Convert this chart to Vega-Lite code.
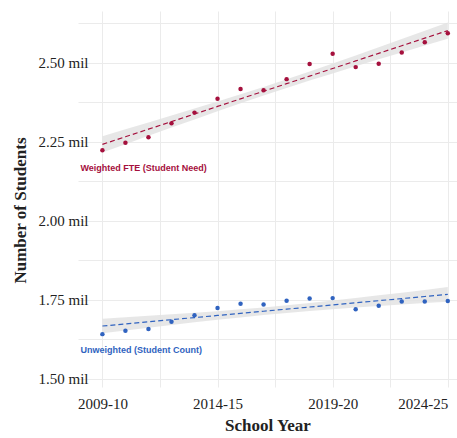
{
  "$schema": "https://vega.github.io/schema/vega-lite/v6.json",
  "width": 379,
  "height": 376,
  "autosize": {"type": "none"},
  "padding": {"left": 78, "top": 11, "right": 0, "bottom": 51},
  "background": "white",
  "config": {
    "view": {"stroke": null},
    "axis": {"gridColor": "#ebebeb", "gridWidth": 1, "domain": false, "ticks": false}
  },
  "datasets": {
    "pts": [
      {"year": 2009, "series": "Weighted", "value": 2.223, "fit": 2.2416, "lo": 2.2157, "hi": 2.2675},
      {"year": 2010, "series": "Weighted", "value": 2.247, "fit": 2.2656, "lo": 2.2421, "hi": 2.2891},
      {"year": 2011, "series": "Weighted", "value": 2.264, "fit": 2.2896, "lo": 2.2685, "hi": 2.3107},
      {"year": 2012, "series": "Weighted", "value": 2.308, "fit": 2.3136, "lo": 2.2946, "hi": 2.3326},
      {"year": 2013, "series": "Weighted", "value": 2.342, "fit": 2.3376, "lo": 2.3206, "hi": 2.3547},
      {"year": 2014, "series": "Weighted", "value": 2.386, "fit": 2.3616, "lo": 2.3462, "hi": 2.3771},
      {"year": 2015, "series": "Weighted", "value": 2.417, "fit": 2.3856, "lo": 2.3713, "hi": 2.3999},
      {"year": 2016, "series": "Weighted", "value": 2.413, "fit": 2.4096, "lo": 2.3959, "hi": 2.4233},
      {"year": 2017, "series": "Weighted", "value": 2.448, "fit": 2.4336, "lo": 2.4199, "hi": 2.4473},
      {"year": 2018, "series": "Weighted", "value": 2.496, "fit": 2.4576, "lo": 2.4433, "hi": 2.4719},
      {"year": 2019, "series": "Weighted", "value": 2.528, "fit": 2.4816, "lo": 2.4662, "hi": 2.4971},
      {"year": 2020, "series": "Weighted", "value": 2.486, "fit": 2.5056, "lo": 2.4886, "hi": 2.5227},
      {"year": 2021, "series": "Weighted", "value": 2.497, "fit": 2.5296, "lo": 2.5106, "hi": 2.5486},
      {"year": 2022, "series": "Weighted", "value": 2.532, "fit": 2.5536, "lo": 2.5325, "hi": 2.5747},
      {"year": 2023, "series": "Weighted", "value": 2.565, "fit": 2.5776, "lo": 2.5541, "hi": 2.6011},
      {"year": 2024, "series": "Weighted", "value": 2.593, "fit": 2.6016, "lo": 2.5757, "hi": 2.6275},
      {"year": 2009, "series": "Unweighted", "value": 1.641, "fit": 1.6667, "lo": 1.6437, "hi": 1.6897},
      {"year": 2010, "series": "Unweighted", "value": 1.652, "fit": 1.6734, "lo": 1.6526, "hi": 1.6942},
      {"year": 2011, "series": "Unweighted", "value": 1.657, "fit": 1.6800, "lo": 1.6612, "hi": 1.6988},
      {"year": 2012, "series": "Unweighted", "value": 1.680, "fit": 1.6867, "lo": 1.6699, "hi": 1.7036},
      {"year": 2013, "series": "Unweighted", "value": 1.701, "fit": 1.6934, "lo": 1.6783, "hi": 1.7085},
      {"year": 2014, "series": "Unweighted", "value": 1.724, "fit": 1.7001, "lo": 1.6864, "hi": 1.7138},
      {"year": 2015, "series": "Unweighted", "value": 1.737, "fit": 1.7067, "lo": 1.6940, "hi": 1.7194},
      {"year": 2016, "series": "Unweighted", "value": 1.735, "fit": 1.7134, "lo": 1.7013, "hi": 1.7255},
      {"year": 2017, "series": "Unweighted", "value": 1.747, "fit": 1.7201, "lo": 1.7080, "hi": 1.7322},
      {"year": 2018, "series": "Unweighted", "value": 1.754, "fit": 1.7268, "lo": 1.7141, "hi": 1.7395},
      {"year": 2019, "series": "Unweighted", "value": 1.755, "fit": 1.7334, "lo": 1.7197, "hi": 1.7471},
      {"year": 2020, "series": "Unweighted", "value": 1.720, "fit": 1.7401, "lo": 1.7250, "hi": 1.7552},
      {"year": 2021, "series": "Unweighted", "value": 1.731, "fit": 1.7468, "lo": 1.7300, "hi": 1.7637},
      {"year": 2022, "series": "Unweighted", "value": 1.744, "fit": 1.7535, "lo": 1.7347, "hi": 1.7723},
      {"year": 2023, "series": "Unweighted", "value": 1.744, "fit": 1.7601, "lo": 1.7393, "hi": 1.7809},
      {"year": 2024, "series": "Unweighted", "value": 1.746, "fit": 1.7668, "lo": 1.7438, "hi": 1.7898}
    ],
    "labels": [
      {"series": "Weighted", "year": 2008.05, "value": 2.167, "text": "Weighted FTE (Student Need)"},
      {"series": "Unweighted", "year": 2008.05, "value": 1.591, "text": "Unweighted (Student Count)"}
    ]
  },
  "layer": [
    {
      "data": {"name": "pts"},
      "mark": {"type": "area", "color": "#e3e3e3", "opacity": 0.85},
      "encoding": {
        "x": {
          "field": "year", "type": "quantitative",
          "scale": {"domain": [2007.94, 2024.4], "nice": false, "zero": false},
          "axis": {
            "values": [2009, 2011.5, 2014, 2016.5, 2019, 2021.5, 2024],
            "labelExpr": "datum.value % 5 == 4 ? datum.value + '-' + substring(toString(datum.value + 1), 2, 4) : ''",
            "labelFont": "Liberation Serif", "labelFontSize": 15, "labelColor": "#222222", "labelPadding": 9,
            "labelFlush": 12, "labelOverlap": false,
            "title": "School Year", "titleFont": "Liberation Serif", "titleFontSize": 17, "titleFontWeight": "bold",
            "titleColor": "#222222", "titlePadding": 6
          }
        },
        "y": {
          "field": "lo", "type": "quantitative",
          "scale": {"domain": [1.4737, 2.6636], "nice": false, "zero": false},
          "axis": {
            "values": [1.5, 1.625, 1.75, 1.875, 2.0, 2.125, 2.25, 2.375, 2.5, 2.625],
            "labelExpr": "(datum.value * 4) % 1 == 0 ? format(datum.value, '.2f') + ' mil' : ''",
            "labelFont": "Liberation Serif", "labelFontSize": 15, "labelColor": "#222222", "labelPadding": -10,
            "labelOverlap": false,
            "title": "Number of Students", "titleFont": "Liberation Serif", "titleFontSize": 17, "titleFontWeight": "bold",
            "titleColor": "#222222", "titleX": -58, "titleY": 199, "titleAngle": -90, "titleAlign": "center", "titleBaseline": "middle"
          }
        },
        "y2": {"field": "hi"},
        "detail": {"field": "series"}
      }
    },
    {
      "data": {"name": "pts"},
      "mark": {"type": "line", "strokeDash": [5, 3], "strokeWidth": 1.2},
      "encoding": {
        "x": {"field": "year", "type": "quantitative"},
        "y": {"field": "fit", "type": "quantitative"},
        "color": {
          "field": "series", "type": "nominal",
          "scale": {"domain": ["Weighted", "Unweighted"], "range": ["#a5103d", "#3063c0"]},
          "legend": null
        }
      }
    },
    {
      "data": {"name": "pts"},
      "mark": {"type": "circle", "size": 20, "opacity": 1},
      "encoding": {
        "x": {"field": "year", "type": "quantitative"},
        "y": {"field": "value", "type": "quantitative"},
        "color": {"field": "series", "type": "nominal", "legend": null}
      }
    },
    {
      "data": {"name": "labels"},
      "mark": {"type": "text", "align": "left", "baseline": "middle", "font": "Liberation Sans", "fontSize": 9, "fontWeight": "bold"},
      "encoding": {
        "x": {"field": "year", "type": "quantitative"},
        "y": {"field": "value", "type": "quantitative"},
        "text": {"field": "text"},
        "color": {"field": "series", "type": "nominal", "legend": null}
      }
    }
  ]
}
